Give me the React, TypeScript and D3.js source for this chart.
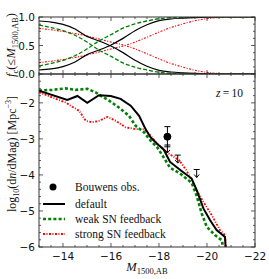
import React from 'react'
import * as d3 from 'd3'

// top panel: cumulative fractions f_c(<=M) and complements
const fracM = [-13, -13.5, -14, -14.5, -15, -15.5, -16, -16.5, -17, -17.5, -18, -18.5, -19, -19.5, -20, -20.5, -21, -22]
const fracDefaultLo = [0.93, 0.91, 0.87, 0.79, 0.66, 0.58, 0.49, 0.375, 0.24, 0.135, 0.065, 0.035, 0.02, 0.01, 0.003, 0, 0, 0]
const fracDefaultHi = [0.07, 0.09, 0.13, 0.21, 0.34, 0.42, 0.51, 0.625, 0.76, 0.865, 0.935, 0.965, 0.98, 0.99, 0.997, 1, 1, 1]
const fracWeakLo = [0.86, 0.815, 0.76, 0.68, 0.56, 0.42, 0.31, 0.195, 0.12, 0.07, 0.03, 0.012, 0.005, 0.002, 0, 0, 0, 0]
const fracWeakHi = [0.14, 0.185, 0.24, 0.32, 0.44, 0.58, 0.69, 0.805, 0.88, 0.93, 0.97, 0.988, 0.995, 0.998, 1, 1, 1, 1]
const fracStrongLo = [0.8, 0.775, 0.745, 0.71, 0.665, 0.615, 0.56, 0.51, 0.44, 0.355, 0.265, 0.185, 0.12, 0.065, 0.028, 0.008, 0, 0]
const fracStrongHi = [0.2, 0.225, 0.255, 0.29, 0.335, 0.385, 0.44, 0.49, 0.56, 0.645, 0.735, 0.815, 0.88, 0.935, 0.972, 0.992, 1, 1]

// bottom panel: luminosity functions [M, log10 phi]
const lfDefault: [number, number][] = [
  [-13, -1.66], [-14.18, -1.92], [-14.6, -1.81], [-15.01, -2.0], [-15.5, -1.79], [-15.99, -1.81],
  [-16.4, -1.89], [-16.82, -2.08], [-17.17, -2.36], [-17.44, -2.73], [-17.65, -2.96], [-17.93, -3.14],
  [-18.2, -3.3], [-18.46, -3.64], [-18.9, -3.87], [-19.36, -4.1], [-19.57, -4.42], [-19.85, -4.93],
  [-20.13, -5.26], [-20.4, -5.53], [-20.75, -5.72], [-20.8, -6.3]
]
const lfWeak: [number, number][] = [
  [-13, -1.66], [-13.55, -1.64], [-14.11, -1.6], [-14.53, -1.64], [-15.01, -1.61], [-15.36, -1.71],
  [-15.57, -1.8], [-15.92, -1.94], [-16.33, -2.13], [-16.75, -2.36], [-17.03, -2.64], [-17.38, -2.82],
  [-17.65, -3.05], [-17.93, -3.24], [-18.18, -3.5], [-18.46, -3.8], [-18.88, -3.96], [-19.36, -4.22],
  [-19.57, -4.58], [-19.78, -5.07], [-19.99, -5.44], [-20.33, -5.67], [-20.61, -5.81], [-20.78, -6.3]
]
const lfStrong: [number, number][] = [
  [-13, -1.71], [-13.55, -1.85], [-14.11, -1.99], [-14.39, -2.11], [-14.67, -2.22], [-14.95, -2.5],
  [-15.22, -2.54], [-15.5, -2.5], [-15.85, -2.39], [-16.2, -2.5], [-16.61, -2.68], [-17.03, -2.73],
  [-17.38, -2.73], [-17.65, -2.91], [-17.93, -3.14], [-18.2, -3.28], [-18.39, -3.4], [-18.85, -3.6],
  [-19.15, -3.88], [-19.36, -4.15], [-19.57, -4.42], [-19.85, -4.75], [-20.2, -5.12], [-20.54, -5.53],
  [-20.75, -5.67], [-20.82, -6.3]
]

// Bouwens observations
const obsM = [-18.35]
const obsPhi = [-2.94]
const obsErrUp = [0.28]
const obsErrDn = [0.28]
const limM = [-18.35, -18.78, -19.57]
const limPhi = [-3.17, -3.45, -3.85]

const xTicks = [-14, -16, -18, -20, -22]
const yTopTicks = [0, 0.5, 1]
const yTopLabels = ['0.0', '0.5', '1.0']
const yBotTicks = [-2, -3, -4, -5, -6]

const W = 269
const H = 279
const left = 39
const right = 255
const topY0 = 17
const midY = 74
const botY1 = 247

const serif = '"Liberation Serif", "DejaVu Serif", serif'
const sans = '"DejaVu Sans", sans-serif'
const frameCol = '#333'

export default function App() {
  const x = d3.scaleLinear().domain([-13, -22]).range([left, right])
  const yT = d3.scaleLinear().domain([0, 1]).range([midY, topY0])
  const yB = d3.scaleLinear().domain([-6, -1.2]).range([botY1, midY])

  const fracLine = (vals: number[]) =>
    d3.line<number>().x((_, i) => x(fracM[i])).y(d => yT(d)).curve(d3.curveMonotoneX)(vals) || ''
  const lfLine = d3.line<[number, number]>().x(d => x(d[0])).y(d => yB(d[1]))

  const xMinor = d3.range(-13, -22.01, -0.5)
  const yTopMinor = d3.range(0, 1.001, 0.125)
  const yBotMinor = d3.range(-6, -1.19, 0.2)

  const tick = (key: string, x1: number, y1: number, x2: number, y2: number) => (
    <line key={key} x1={x1} y1={y1} x2={x2} y2={y2} stroke={frameCol} strokeWidth={0.8} />
  )

  const ticks: React.ReactNode[] = []
  xMinor.forEach((v, i) => {
    const major = Math.abs(v % 2) < 1e-6
    const len = major ? 4 : 2
    const px = x(v)
    ticks.push(tick('xt0' + i, px, topY0, px, topY0 + len))
    ticks.push(tick('xt1' + i, px, midY, px, midY - len))
    ticks.push(tick('xt2' + i, px, midY, px, midY + len))
    ticks.push(tick('xt3' + i, px, botY1, px, botY1 - len))
  })
  yTopMinor.forEach((v, i) => {
    const major = Math.abs((v * 2) % 1) < 1e-6
    const len = major ? 4 : 2
    ticks.push(tick('yt0' + i, left, yT(v), left + len, yT(v)))
    ticks.push(tick('yt1' + i, right, yT(v), right - len, yT(v)))
  })
  yBotMinor.forEach((v, i) => {
    const major = Math.abs(v - Math.round(v)) < 1e-6
    const len = major ? 4 : 2
    ticks.push(tick('yb0' + i, left, yB(v), left + len, yB(v)))
    ticks.push(tick('yb1' + i, right, yB(v), right - len, yB(v)))
  })

  return (
    <svg width={W} height={H} style={{ position: 'absolute', left: 0, top: 0, background: 'white' }}>
      <defs>
        <clipPath id="clipTop">
          <rect x={left} y={topY0} width={right - left} height={midY - topY0} />
        </clipPath>
        <clipPath id="clipBot">
          <rect x={left} y={midY} width={right - left} height={botY1 - midY} />
        </clipPath>
      </defs>

      {/* top panel curves */}
      <g clipPath="url(#clipTop)" fill="none">
        <path d={fracLine(fracStrongLo)} stroke="red" strokeWidth={1.1} strokeDasharray="2,1.5,1,1.5" />
        <path d={fracLine(fracStrongHi)} stroke="red" strokeWidth={1.1} strokeDasharray="2,1.5,1,1.5" />
        <path d={fracLine(fracWeakLo)} stroke="green" strokeWidth={1.3} strokeDasharray="4,2" />
        <path d={fracLine(fracWeakHi)} stroke="green" strokeWidth={1.3} strokeDasharray="4,2" />
        <path d={fracLine(fracDefaultLo)} stroke="black" strokeWidth={1.2} />
        <path d={fracLine(fracDefaultHi)} stroke="black" strokeWidth={1.2} />
      </g>

      {/* bottom panel curves */}
      <g clipPath="url(#clipBot)" fill="none">
        <path d={lfLine(lfStrong) || ''} stroke="red" strokeWidth={1.8} strokeDasharray="2,1.5,1,1.5" />
        <path d={lfLine(lfWeak) || ''} stroke="green" strokeWidth={2.6} strokeDasharray="3,2.2" />
        <path d={lfLine(lfDefault) || ''} stroke="black" strokeWidth={2} />
      </g>

      {/* observations */}
      {obsM.map((m, i) => {
        const px = x(m)
        const y1 = yB(obsPhi[i] + obsErrUp[i])
        const y2 = yB(obsPhi[i] - obsErrDn[i])
        return (
          <g key={'obs' + i} stroke="black" strokeWidth={1}>
            <line x1={px} x2={px} y1={y1} y2={y2} />
            <line x1={px - 3} x2={px + 3} y1={y1} y2={y1} />
            <line x1={px - 3} x2={px + 3} y1={y2} y2={y2} />
            <circle cx={px} cy={yB(obsPhi[i])} r={3.5} fill="black" />
          </g>
        )
      })}
      {limM.map((m, i) => {
        const px = x(m)
        const py = yB(limPhi[i])
        return (
          <g key={'lim' + i} stroke="black" strokeWidth={1} fill="none">
            <line x1={px - 3} x2={px + 3} y1={py} y2={py} />
            <line x1={px} x2={px} y1={py} y2={py + 8} />
            <path d={`M${px - 2.5},${py + 5} L${px},${py + 8} L${px + 2.5},${py + 5}`} />
          </g>
        )
      })}

      {/* frames */}
      <rect x={left} y={topY0} width={right - left} height={midY - topY0} fill="none" stroke={frameCol} strokeWidth={1} />
      <rect x={left} y={midY} width={right - left} height={botY1 - midY} fill="none" stroke={frameCol} strokeWidth={1} />
      {ticks}

      {/* tick labels */}
      <g fontFamily={sans} fontSize={10.5} fill="#111">
        {yTopTicks.map((v, i) => (
          <text key={'ytl' + i} x={35} y={yT(v)} textAnchor="end" dominantBaseline="central">{yTopLabels[i]}</text>
        ))}
        {yBotTicks.map(v => (
          <text key={'ybl' + v} x={35} y={yB(v)} textAnchor="end" dominantBaseline="central">{'\u2212' + Math.abs(v)}</text>
        ))}
        {xTicks.map(v => (
          <text key={'xl' + v} x={x(v)} y={256} textAnchor="middle" dominantBaseline="central">{'\u2212' + Math.abs(v)}</text>
        ))}
      </g>

      {/* axis labels */}
      <g fontFamily={serif} fontSize={12.5} fill="#111">
        <text x={147} y={271} textAnchor="middle">
          <tspan fontStyle="italic">M</tspan>
          <tspan fontSize={8.5} dy={3}>1500,AB</tspan>
        </text>
        <text transform="translate(16,154) rotate(-90)" textAnchor="middle" fontSize={12}>
          <tspan>log</tspan>
          <tspan fontSize={8} dy={3}>10</tspan>
          <tspan dy={-3}>(d</tspan>
          <tspan fontStyle="italic">n</tspan>
          <tspan>/dMag) [Mpc</tspan>
          <tspan fontSize={8} dy={-5}>{'\u22123'}</tspan>
          <tspan dy={5}>]</tspan>
        </text>
        <text transform="translate(15,45) rotate(-90)" textAnchor="middle">
          <tspan fontStyle="italic">f</tspan>
          <tspan fontSize={8.5} dy={3}>c</tspan>
          <tspan dy={-3}>({'\u2264'}</tspan>
          <tspan fontStyle="italic">M</tspan>
          <tspan fontSize={8.5} dy={3}>1500,AB</tspan>
          <tspan dy={-3}>)</tspan>
        </text>
        <text x={243} y={97} textAnchor="end" fontSize={11.5}>
          <tspan fontStyle="italic">z</tspan>
          <tspan>{'\u2009=\u200910'}</tspan>
        </text>
      </g>

      {/* legend */}
      <g fontFamily={serif} fontSize={11.5} fill="#111">
        <circle cx={53} cy={187} r={3.5} fill="black" />
        <text x={75} y={187} dominantBaseline="central">Bouwens obs.</text>
        <line x1={43} x2={65} y1={204} y2={204} stroke="black" strokeWidth={2} />
        <text x={75} y={204} dominantBaseline="central">default</text>
        <line x1={43} x2={65} y1={219} y2={219} stroke="green" strokeWidth={2.6} strokeDasharray="3,2.2" />
        <text x={75} y={219} dominantBaseline="central">weak SN feedback</text>
        <line x1={43} x2={65} y1={234} y2={234} stroke="red" strokeWidth={1.8} strokeDasharray="2,1.5,1,1.5" />
        <text x={75} y={234} dominantBaseline="central">strong SN feedback</text>
      </g>
    </svg>
  )
}
